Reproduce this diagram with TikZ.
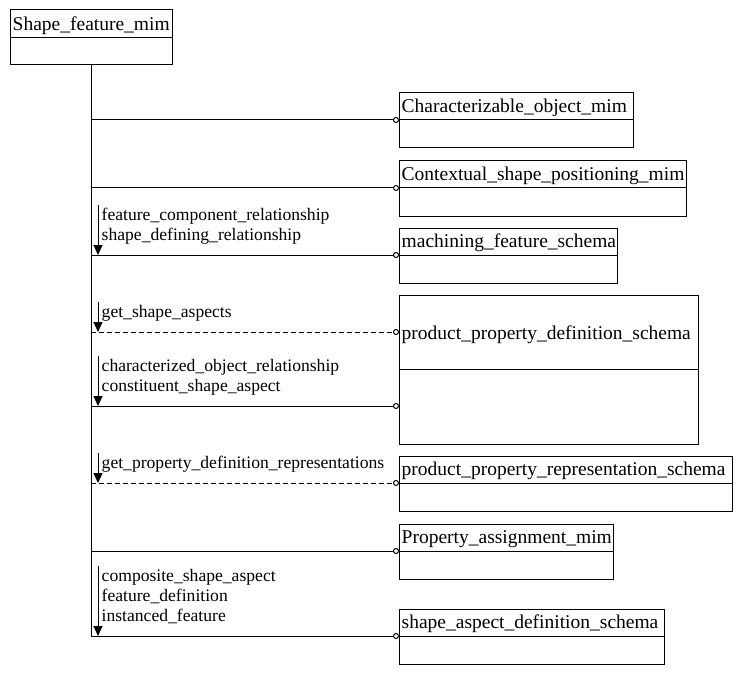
\documentclass[tikz,border=0pt]{standalone}
\usepackage{fontspec}
\setmainfont{Liberation Serif}
\usetikzlibrary{arrows.meta}
\tikzset{
  box/.style={draw, line width=1pt, inner sep=0pt, outer sep=0pt, anchor=north west},
  title/.style={inner sep=0pt, anchor=base west, font=\fontsize{19.5}{22}\selectfont},
  lbl/.style={inner sep=0pt, anchor=base west, align=left, font=\fontsize{17.6}{20}\selectfont},
  conn/.style={line width=1pt, -{Circle[open,length=6pt,width=6pt]}},
  dconn/.style={conn, dash pattern=on 5pt off 3pt},
  lblarrow/.style={line width=1pt, -{Triangle[length=10pt,width=9pt]}},
  trunk/.style={line width=1pt}
}
\newcommand{\umlbox}[8]{%
  \node[box, minimum width=#4, minimum height=#5] (#1) at (#2,#3) {};
  \draw[line width=1pt] ([yshift=-#6pt]#1.north west) -- ([yshift=-#6pt]#1.north east);
  \node[title] (#1-t) at ([xshift=2.5pt,yshift=-#7pt]#1.north west) {#8};
}
\begin{document}
\begin{tikzpicture}[x=1pt,y=-1pt]
\useasboundingbox[fill=white] (0,0) rectangle (742,674);
\umlbox{sfm}{10}{10}{162}{55}{27.5}{20.7}{Shape\_feature\_mim}
\umlbox{com}{399}{93}{234}{55}{27}{19.7}{Characterizable\_object\_mim}
\umlbox{csp}{399}{161}{287}{55}{27}{19.7}{Contextual\_shape\_positioning\_mim}
\umlbox{mfs}{399}{228}{218}{55}{27}{19.7}{machining\_feature\_schema}
\umlbox{ppd}{399}{295}{299}{149}{74}{44.3}{product\_property\_definition\_schema}
\umlbox{ppr}{399}{456}{333}{55}{27}{19.7}{product\_property\_representation\_schema}
\umlbox{pam}{399}{524}{214}{55}{27}{19.7}{Property\_assignment\_mim}
\umlbox{sad}{399}{609}{265}{55}{27}{19.7}{shape\_aspect\_definition\_schema}
% connector end points on the boxes
\coordinate (e1) at ([yshift=-27pt]com.north west);
\coordinate (e2) at ([yshift=-27pt]csp.north west);
\coordinate (e3) at ([yshift=-27pt]mfs.north west);
\coordinate (e4) at ([yshift=-37pt]ppd.north west);
\coordinate (e5) at ([yshift=-111pt]ppd.north west);
\coordinate (e6) at ([yshift=-27pt]ppr.north west);
\coordinate (e7) at ([yshift=-27pt]pam.north west);
\coordinate (e8) at ([yshift=-27pt]sad.north west);
% trunk
\draw[trunk] (sfm.south) -- (sfm.south |- e8);
% connectors
\draw[conn]  (sfm.south |- e1) -- (e1);
\draw[conn]  (sfm.south |- e2) -- (e2);
\draw[conn]  (sfm.south |- e3) -- (e3);
\draw[dconn] (sfm.south |- e4) -- (e4);
\draw[conn]  (sfm.south |- e5) -- (e5);
\draw[dconn] (sfm.south |- e6) -- (e6);
\draw[conn]  (sfm.south |- e7) -- (e7);
\draw[conn]  (sfm.south |- e8) -- (e8);
% label arrows
\coordinate (a3) at (98,205);
\coordinate (a4) at (98,302);
\coordinate (a5) at (98,356);
\coordinate (a6) at (98,453);
\coordinate (a8) at (98,566);
\draw[lblarrow] (a3) -- (a3 |- e3);
\draw[lblarrow] (a4) -- (a4 |- e4);
\draw[lblarrow] (a5) -- (a5 |- e5);
\draw[lblarrow] (a6) -- (a6 |- e6);
\draw[lblarrow] (a8) -- (a8 |- e8);
% labels (base anchor = last line baseline)
\node[lbl] (l3) at (101.5,240.5) {feature\_component\_relationship\\shape\_defining\_relationship};
\node[lbl] (l4) at (101.5,317) {get\_shape\_aspects};
\node[lbl] (l5) at (101.5,391) {characterized\_object\_relationship\\constituent\_shape\_aspect};
\node[lbl] (l6) at (101.5,468) {get\_property\_definition\_representations};
\node[lbl] (l8) at (101.5,621.5) {composite\_shape\_aspect\\feature\_definition\\instanced\_feature};
\end{tikzpicture}
\end{document}
